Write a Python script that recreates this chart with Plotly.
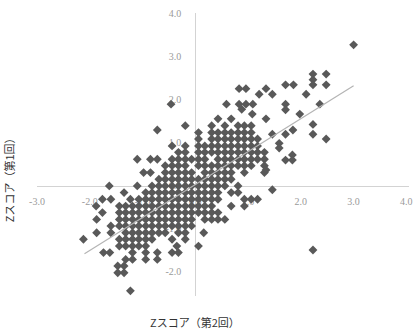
import plotly.graph_objects as go

# Z score rows (第1回 values) and the 第2回 values in each row
row_y1 = [1.40, 1.24, 1.09, 0.93, 0.78, 0.62, 0.47, 0.31, 0.155, 0.0,
          -0.155, -0.31, -0.47, -0.62, -0.78, -0.93, -1.09, -1.24, -1.40,
          -1.55, -1.71, -1.86, -2.02, -2.44]
row_x2 = [
    [-0.19, 0.31, 0.56, 0.81, 0.93, 1.06],
    [0.06, 0.31, 0.43, 0.56, 0.68, 0.81, 0.93, 1.06],
    [0.06, 0.31, 0.43, 0.56, 0.68, 0.81, 0.93, 1.06, 1.18],
    [-0.44, -0.19, 0.06, 0.18, 0.31, 0.43, 0.56, 0.68, 0.81, 0.93, 1.06, 1.18],
    [-0.32, -0.19, 0.06, 0.18, 0.31, 0.43, 0.56, 0.68, 0.81, 0.93, 1.06, 1.18, 1.31],
    [-1.10, -0.85, -0.72, -0.44, -0.32, -0.19, -0.07, 0.06, 0.18, 0.43, 0.56, 0.68, 0.81, 0.93, 1.06, 1.18, 1.31],
    [-0.57, -0.44, -0.32, -0.19, 0.06, 0.18, 0.31, 0.43, 0.56, 0.68, 0.81, 0.93, 1.06, 1.31],
    [-0.98, -0.85, -0.57, -0.44, -0.32, -0.19, -0.07, 0.18, 0.31, 0.43, 0.56, 0.68, 0.93, 1.31],
    [-0.69, -0.57, -0.44, -0.32, -0.19, -0.07, 0.06, 0.18, 0.31, 0.43, 0.56, 0.68],
    [-1.63, -1.10, -0.82, -0.69, -0.57, -0.44, -0.32, -0.19, -0.07, 0.06, 0.18, 0.31, 0.43, 0.56, 0.81],
    [-1.35, -0.94, -0.82, -0.69, -0.57, -0.44, -0.32, -0.19, -0.07, 0.06, 0.18, 0.31, 0.43, 0.68, 0.81],
    [-1.76, -1.60, -1.23, -1.07, -0.94, -0.82, -0.69, -0.57, -0.44, -0.32, -0.19, -0.07, 0.06, 0.18, 0.31, 0.43, 0.93, 1.06, 1.18],
    [-1.88, -1.44, -1.32, -1.19, -1.07, -0.94, -0.82, -0.69, -0.57, -0.44, -0.32, -0.19, -0.07, 0.06, 0.18, 0.31, 0.68, 0.93],
    [-1.76, -1.44, -1.32, -1.19, -1.07, -0.94, -0.82, -0.69, -0.57, -0.44, -0.32, -0.19, -0.07, 0.06, 0.18, 0.31, 0.43],
    [-1.87, -1.44, -1.32, -1.19, -1.07, -0.94, -0.82, -0.69, -0.57, -0.44, -0.32, -0.19, -0.07, 0.18, 0.31, 0.43, 0.56],
    [-1.60, -1.44, -1.32, -1.19, -1.07, -0.94, -0.82, -0.69, -0.57, -0.44, -0.32, -0.19, -0.07],
    [-1.87, -1.60, -1.32, -1.19, -1.07, -0.94, -0.82, -0.69, -0.57, -0.32, -0.19, 0.16],
    [-2.12, -1.44, -1.32, -1.19, -1.07, -0.94, -0.82, -0.44, -0.19],
    [-1.44, -1.32, -1.19, -1.07, -0.94, -0.35, 0.06],
    [-1.74, -1.62, -1.19, -0.94, -0.72, -0.44, -0.32],
    [-1.32, -1.19, -0.94, -0.72],
    [-1.47, -1.35],
    [-1.47, -1.35],
    [-1.23],
]

# scattered points outside the dense core
extra_x2 = [3.00, 2.23, 2.23, 2.23, 2.48, 2.48, 1.71, 1.86, 2.10, 1.21, 1.46, 1.34,
            0.83, 0.96, 1.71, 1.71, 2.36, 0.59, 0.83, 0.96, 1.09, -0.46, 0.88,
            1.08, 1.98, 1.34, 0.43, 0.68, 2.23, 2.23, 1.71, 1.85, 1.46, 2.48,
            1.59, 1.59, 1.71, 1.84, 1.84, 1.34, 1.46, 2.23, -0.72]
extra_y1 = [3.28, 2.60, 2.47, 2.35, 2.60, 2.35, 2.35, 2.35, 2.13, 2.13, 2.13, 2.26,
            2.26, 2.26, 1.90, 1.77, 1.90, 1.90, 1.90, 1.90, 1.90, 1.90, 1.78,
            1.67, 1.67, 1.56, 1.56, 1.56, 1.43, 1.20, 1.20, 1.30, 1.20, 1.09,
            0.99, 0.88, 0.60, 0.72, 0.60, 0.37, -0.09, -1.49, 1.30]

# linear trendline endpoints
trend_x2 = [-2.10, 3.00]
trend_y1 = [-1.58, 2.33]

tick_vals_x = [-3, -2, -1, 0, 1, 2, 3, 4]
tick_text_x = ["-3.0", "-2.0", "-1.0", "0.0", "1.0", "2.0", "3.0", "4.0"]
tick_vals_y = [-2, -1, 0, 1, 2, 3, 4]
tick_text_y = ["-2.0", "-1.0", "0.0", "1.0", "2.0", "3.0", "4.0"]

x_title = "Zスコア（第2回）"
y_title = "Zスコア（第1回）"

xs, ys = [], []
for yv, xl in zip(row_y1, row_x2):
    for xv in xl:
        xs.append(xv)
        ys.append(yv)
xs += extra_x2
ys += extra_y1

X_RANGE = [-3.0, 4.05]
Y_RANGE = [-2.56, 4.02]

fig = go.Figure()
fig.add_trace(go.Scatter(
    x=xs, y=ys, mode="markers",
    marker=dict(symbol="diamond", size=6.8, color="#595959", line=dict(width=0)),
    showlegend=False, hoverinfo="skip"))
fig.add_trace(go.Scatter(
    x=trend_x2, y=trend_y1, mode="lines",
    line=dict(color="#b4b4b4", width=1.2),
    showlegend=False, hoverinfo="skip"))

tick_font = dict(family="Liberation Serif, DejaVu Serif, serif", size=10, color="#9a9a9a")

fig.update_layout(
    width=418, height=329,
    margin=dict(l=37, r=5, t=13, b=33),
    paper_bgcolor="white", plot_bgcolor="white",
    xaxis=dict(range=X_RANGE, tickvals=tick_vals_x, ticktext=tick_text_x,
               showgrid=False, zeroline=False, showline=True, linecolor="#d3d3d3",
               linewidth=1.2, ticks="", anchor="free",
               position=(0 - Y_RANGE[0]) / (Y_RANGE[1] - Y_RANGE[0]),
               tickfont=tick_font, layer="below traces", ticklabelstandoff=6),
    yaxis=dict(range=Y_RANGE, tickvals=tick_vals_y, ticktext=tick_text_y,
               showgrid=False, zeroline=False, showline=True, linecolor="#d3d3d3",
               linewidth=1.2, ticks="", anchor="free",
               position=(0 - X_RANGE[0]) / (X_RANGE[1] - X_RANGE[0]),
               tickfont=tick_font, layer="below traces", ticklabelstandoff=12),
    annotations=[
        dict(text=x_title, xref="paper", yref="paper", x=(0 - X_RANGE[0]) / (X_RANGE[1] - X_RANGE[0]),
             y=-0.055, xanchor="center", yanchor="top", showarrow=False,
             font=dict(family="Noto Sans CJK JP", size=11, color="#333333")),
        dict(text=y_title, xref="paper", yref="paper", x=-0.075, y=0.42,
             xanchor="center", yanchor="middle", textangle=-90, showarrow=False,
             font=dict(family="Noto Sans CJK JP", size=11, color="#333333")),
    ],
)

fig.write_html("out.html",
               config={"displayModeBar": False, "staticPlot": True},
               post_script="document.body.style.margin='0';document.body.style.overflow='hidden';")
